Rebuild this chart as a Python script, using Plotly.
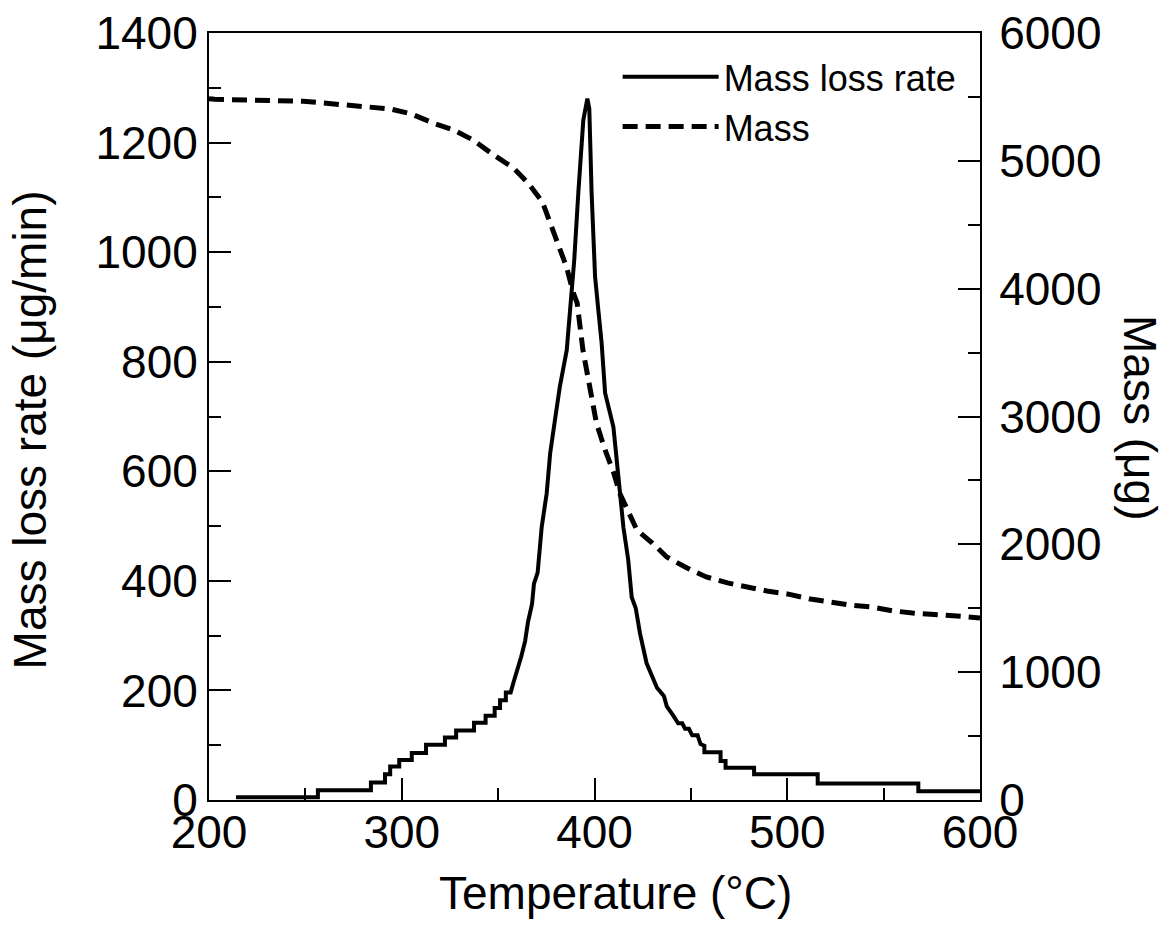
import plotly.graph_objects as go

# Temperature (°C) and mass loss rate (µg/min) — stepped where the rate is low
rate_T = [214, 256.5, 256.5, 284, 284, 291.3, 291.3, 294, 294, 298.7, 298.7, 305.2, 305.2,
          312.6, 312.6, 322.4, 322.4, 328.2, 328.2, 337.5, 337.5, 343.5, 343.5, 348.2, 348.2,
          351, 351, 354, 354, 356.5, 358, 360.3, 362, 364, 365.5, 367.6, 368.6, 370.5, 372.6,
          375.2, 377, 379.5, 382, 385.6, 387.6, 389.5, 391.6, 392.5, 394.2, 396.3, 397.3,
          398.5, 400.3, 402, 403.7, 405.5, 407.5, 409.8, 412.4, 415, 417.5, 419.3, 421.4,
          423.6, 427, 430, 432.4, 436, 437.5, 440.7, 443.4, 445.5, 447, 449, 450.7, 453.5,
          455, 457, 457, 465.4, 465.4, 468, 468, 482.8, 482.8, 515.8, 515.8, 568, 568, 600]
rate_v = [5, 5, 18, 18, 32, 32, 47, 47, 61, 61, 73, 73, 86,
          86, 101, 101, 114, 114, 127, 127, 141, 141, 154, 154, 168,
          168, 182, 182, 196, 196, 215, 240, 262, 290, 325, 358, 395, 415, 498,
          560, 633, 694, 754, 821, 913, 986, 1108, 1155, 1241, 1280, 1262,
          1108, 955, 894, 834, 743, 712, 681, 590, 498, 438, 370, 350,
          304, 250, 225, 205, 190, 171, 155, 140, 140, 130, 130, 118, 118,
          102, 99, 87, 87, 71, 71, 59, 59, 47, 47, 30, 30, 16, 16]

# Temperature (°C) and remaining sample mass (µg)
mass_T = [200, 203, 249, 273, 294, 305, 316, 327, 337, 347, 358, 365.5, 373, 377, 381,
          385.5, 389, 391, 394, 396.6, 401, 405.5, 410, 413, 417, 422, 430, 437.5, 448,
          458, 469, 479, 489.5, 500, 512, 522, 532.5, 544, 555, 565, 576.7, 588, 600]
mass_m = [5485, 5481, 5466, 5437, 5406, 5367, 5297, 5241, 5163, 5053, 4944, 4827, 4678,
          4514, 4357, 4169, 3966, 3888, 3520, 3309, 2949, 2738, 2558, 2402, 2269, 2112,
          2010, 1901, 1815, 1745, 1698, 1666, 1635, 1612, 1572, 1549, 1525, 1510, 1479,
          1463, 1455, 1439, 1424]

x_ticks = [200, 300, 400, 500, 600]
rate_ticks = [0, 200, 400, 600, 800, 1000, 1200, 1400]
mass_ticks = [0, 1000, 2000, 3000, 4000, 5000, 6000]

FONT = "Liberation Sans, Arial, Helvetica, sans-serif"

fig = go.Figure()
fig.add_trace(go.Scatter(
    x=rate_T, y=rate_v, mode="lines", name="Mass loss rate",
    line=dict(color="black", width=4), yaxis="y"))
fig.add_trace(go.Scatter(
    x=mass_T, y=mass_m, mode="lines", name="Mass",
    line=dict(color="black", width=5, dash="15px,8px"), yaxis="y2"))

axis_common = dict(
    showgrid=False, zeroline=False, showline=True, linecolor="black", linewidth=2,
    ticks="inside", ticklen=22, tickwidth=2, tickcolor="black", automargin=False,
    tickfont=dict(family=FONT, size=46, color="black"),
)

fig.update_layout(
    width=1167, height=937,
    margin=dict(l=209, r=187, t=33, b=137),
    paper_bgcolor="white", plot_bgcolor="white",
    font=dict(family=FONT, color="black"),
    showlegend=True,
    legend=dict(
        x=0.53, y=0.982, xanchor="left", yanchor="top",
        bgcolor="rgba(0,0,0,0)", borderwidth=0,
        font=dict(family=FONT, size=36, color="black"),
        itemwidth=96,
    ),
    xaxis=dict(
        range=[200, 600], tickvals=x_ticks, mirror=True,
        minor=dict(dtick=50, ticks="inside", ticklen=12, tickwidth=2, tickcolor="black"),
        ticklabelstandoff=-9,
        **axis_common),
    yaxis=dict(
        range=[0, 1400], tickvals=rate_ticks,
        minor=dict(dtick=100, ticks="inside", ticklen=12, tickwidth=2, tickcolor="black"),
        ticklabelstandoff=0,
        **axis_common),
    yaxis2=dict(
        range=[0, 6000], tickvals=mass_ticks, overlaying="y", side="right",
        minor=dict(dtick=500, ticks="inside", ticklen=12, tickwidth=2, tickcolor="black"),
        ticklabelstandoff=8,
        **axis_common),
    annotations=[
        dict(text="Temperature (°C)", xref="paper", yref="paper", x=0.527, y=-0.121,
             xanchor="center", yanchor="middle", showarrow=False,
             font=dict(family=FONT, size=46, color="black")),
        dict(text="Mass loss rate (μg/min)", xref="paper", yref="paper", x=-0.232, y=0.482,
             xanchor="center", yanchor="middle", showarrow=False, textangle=-90,
             font=dict(family=FONT, size=46, color="black")),
        dict(text="Mass (μg)", xref="paper", yref="paper", x=1.2075, y=0.498,
             xanchor="center", yanchor="middle", showarrow=False, textangle=90,
             font=dict(family=FONT, size=46, color="black")),
    ],
)

fig.write_html("out.html")
